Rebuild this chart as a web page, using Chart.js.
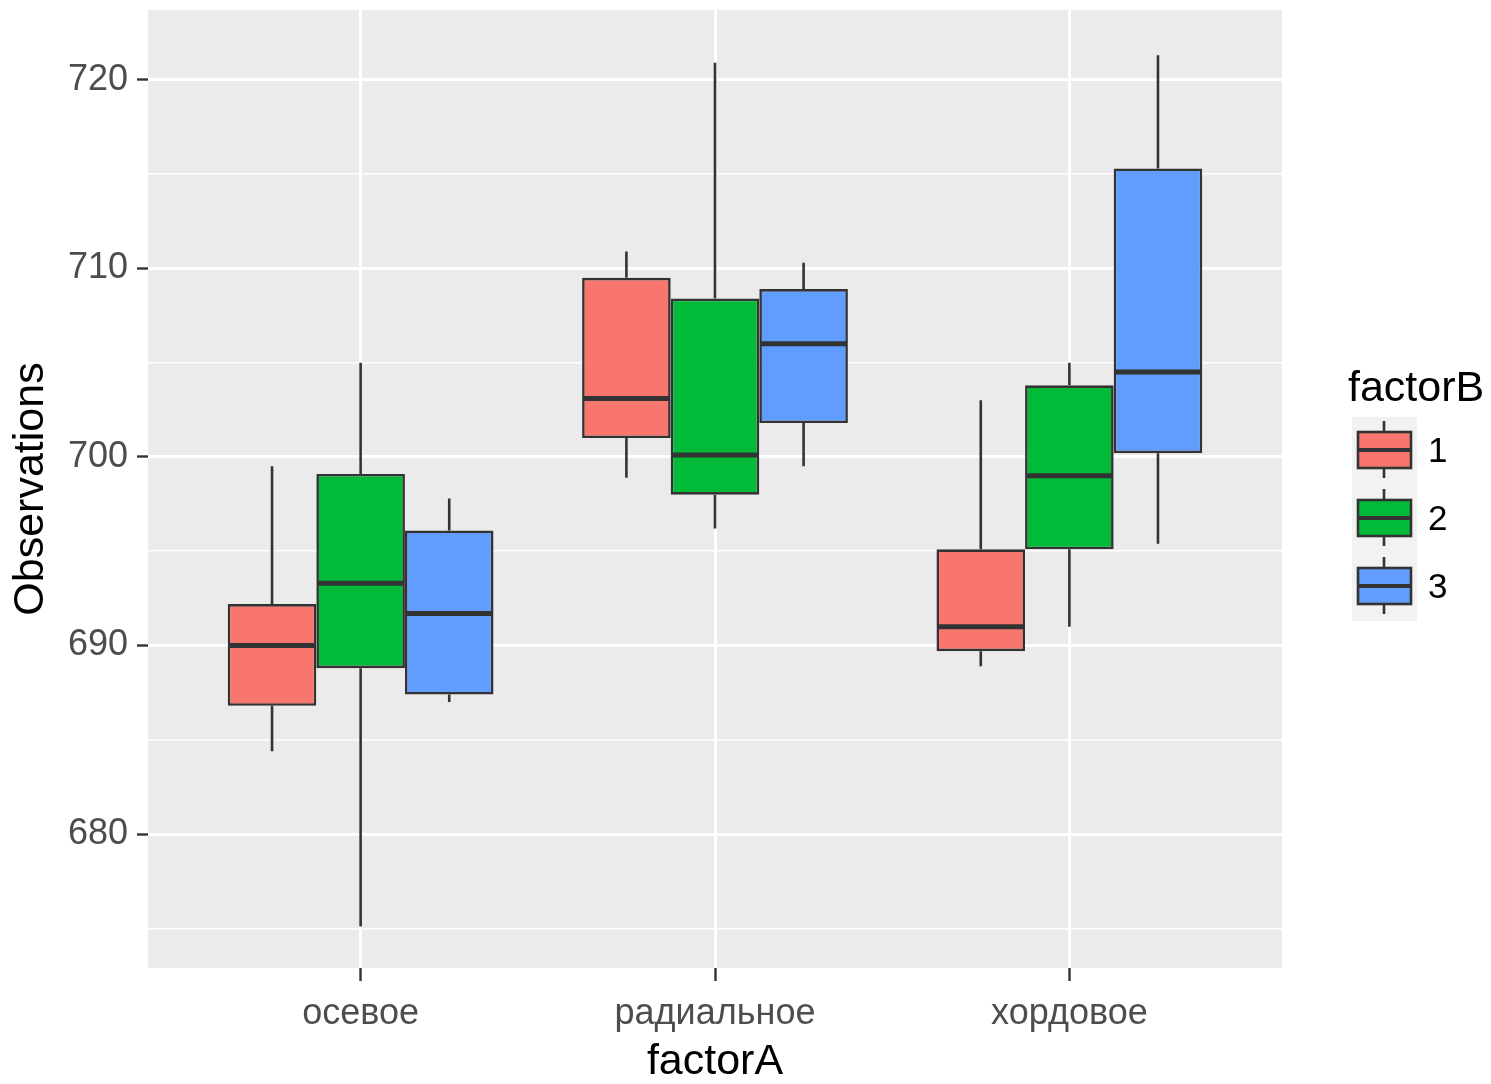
<!DOCTYPE html>
<html>
<head>
<meta charset="utf-8">
<script src="https://cdn.jsdelivr.net/npm/chart.js@4.4.1/dist/chart.umd.min.js"></script>
<style>
  body { margin: 0; background: #fff; }
  #wrap { width: 1491px; height: 1084px; }
</style>
</head>
<body>
<div id="wrap"><canvas id="box-chart"></canvas></div>
<script>
var categories = ["осевое", "радиальное", "хордовое"];
var groups = ["1", "2", "3"];
var colors = ["#F8766D", "#00BA38", "#619CFF"];

// per factorB level, one value for each factorA category
var lower1 = [684.4, 698.9, 688.9];
var q1_1 = [686.8, 701.0, 689.7];
var median1 = [690.0, 703.1, 691.0];
var q3_1 = [692.2, 709.5, 695.1];
var upper1 = [699.5, 710.9, 703.0];

var lower2 = [675.1, 696.2, 691.0];
var q1_2 = [688.8, 698.0, 695.1];
var median2 = [693.3, 700.1, 699.0];
var q3_2 = [699.1, 708.4, 703.8];
var upper2 = [705.0, 720.9, 705.0];

var lower3 = [687.0, 699.5, 695.4];
var q1_3 = [687.4, 701.8, 700.2];
var median3 = [691.7, 706.0, 704.5];
var q3_3 = [696.1, 708.9, 715.3];
var upper3 = [697.8, 710.3, 721.3];

var yTicks = [675, 680, 685, 690, 695, 700, 705, 710, 715, 720];

var stats = [
  { lower: lower1, q1: q1_1, median: median1, q3: q3_1, upper: upper1 },
  { lower: lower2, q1: q1_2, median: median2, q3: q3_2, upper: upper2 },
  { lower: lower3, q1: q1_3, median: median3, q3: q3_3, upper: upper3 }
];

var datasets = stats.map(function (s, i) {
  return {
    label: groups[i],
    data: categories.map(function (c, j) { return { x: j + 1, y: [s.q1[j], s.q3[j]] }; }),
    backgroundColor: colors[i],
    borderColor: "#333333",
    borderWidth: 2.6,
    borderSkipped: false,
    categoryPercentage: 0.75,
    barPercentage: 1.0
  };
});

var fontFamily = "'Liberation Sans', Arial, sans-serif";

// grey panel behind the grid
var panelBg = {
  id: "panelBg",
  beforeDraw: function (chart) {
    var a = chart.chartArea, ctx = chart.ctx;
    ctx.save();
    ctx.fillStyle = "#EBEBEB";
    ctx.fillRect(a.left, a.top, a.right - a.left, a.bottom - a.top);
    ctx.restore();
  }
};

// whiskers under the boxes, medians on top
var boxParts = {
  id: "boxParts",
  beforeDatasetsDraw: function (chart) {
    var ctx = chart.ctx, y = chart.scales.y;
    ctx.save();
    ctx.strokeStyle = "#333333";
    ctx.lineWidth = 2.6;
    stats.forEach(function (s, i) {
      chart.getDatasetMeta(i).data.forEach(function (bar, j) {
        ctx.beginPath();
        ctx.moveTo(bar.x, y.getPixelForValue(s.upper[j]));
        ctx.lineTo(bar.x, y.getPixelForValue(s.q3[j]));
        ctx.moveTo(bar.x, y.getPixelForValue(s.q1[j]));
        ctx.lineTo(bar.x, y.getPixelForValue(s.lower[j]));
        ctx.stroke();
      });
    });
    ctx.restore();
  },
  afterDatasetsDraw: function (chart) {
    var ctx = chart.ctx, y = chart.scales.y;
    ctx.save();
    ctx.strokeStyle = "#333333";
    ctx.lineWidth = 5;
    stats.forEach(function (s, i) {
      chart.getDatasetMeta(i).data.forEach(function (bar, j) {
        var py = y.getPixelForValue(s.median[j]);
        ctx.beginPath();
        ctx.moveTo(bar.x - bar.width / 2 + 1, py);
        ctx.lineTo(bar.x + bar.width / 2 - 1, py);
        ctx.stroke();
      });
    });
    ctx.restore();
  }
};

// ggplot style legend on the right
var boxLegend = {
  id: "boxLegend",
  afterDraw: function (chart) {
    var ctx = chart.ctx, a = chart.chartArea;
    var left = a.right + 70, top = a.top + 407;
    ctx.save();
    ctx.fillStyle = "#000";
    ctx.font = "43px " + fontFamily;
    ctx.textBaseline = "alphabetic";
    ctx.fillText("factorB", left - 4, top - 16);
    for (var i = 0; i < groups.length; i++) {
      var ky = top + i * 68;
      ctx.fillStyle = "#F2F2F2";
      ctx.fillRect(left, ky, 65, 68);
      ctx.strokeStyle = "#333333";
      ctx.lineWidth = 2.6;
      ctx.beginPath();
      ctx.moveTo(left + 32, ky + 4);
      ctx.lineTo(left + 32, ky + 61);
      ctx.stroke();
      ctx.fillStyle = colors[i];
      ctx.fillRect(left + 6, ky + 15, 53, 36);
      ctx.strokeRect(left + 6, ky + 15, 53, 36);
      ctx.lineWidth = 4;
      ctx.beginPath();
      ctx.moveTo(left + 6, ky + 33);
      ctx.lineTo(left + 59, ky + 33);
      ctx.stroke();
      ctx.fillStyle = "#000";
      ctx.font = "35px " + fontFamily;
      ctx.textBaseline = "middle";
      ctx.fillText(groups[i], left + 76, ky + 35);
    }
    ctx.restore();
  }
};

new Chart("box-chart", {
  type: "bar",
  data: { datasets: datasets },
  plugins: [panelBg, boxParts, boxLegend],
  options: {
    responsive: true,
    maintainAspectRatio: false,
    animation: false,
    layout: { padding: { left: 0, right: 209, top: 10, bottom: 0 } },
    plugins: { legend: { display: false }, tooltip: { enabled: false } },
    scales: {
      x: {
        type: "linear",
        min: 0.4,
        max: 3.6,
        offset: false,
        afterBuildTicks: function (scale) {
          scale.ticks = categories.map(function (c, j) { return { value: j + 1 }; });
        },
        afterFit: function (scale) {
          scale.height = 116;
          scale.paddingLeft = 0;
          scale.paddingRight = 0;
        },
        border: { display: false },
        grid: { color: "#FFFFFF", lineWidth: 3, offset: false, tickLength: 13, tickColor: "#333333", tickWidth: 2.4 },
        ticks: {
          color: "#4D4D4D",
          font: { family: fontFamily, size: 36 },
          padding: 11,
          maxRotation: 0,
          callback: function (v) { return categories[v - 1]; }
        },
        title: { display: true, text: "factorA", color: "#000", font: { family: fontFamily, size: 43, lineHeight: 1.0 }, padding: { top: 0, bottom: 0 } }
      },
      y: {
        min: 672.9,
        max: 723.7,
        afterBuildTicks: function (scale) {
          scale.ticks = yTicks.map(function (v) { return { value: v }; });
        },
        afterFit: function (scale) {
          scale.width = 148;
          scale.paddingTop = 0;
          scale.paddingBottom = 0;
        },
        border: { display: false },
        grid: {
          color: "#FFFFFF",
          lineWidth: function (c) { return c.tick && c.tick.value % 10 === 0 ? 3 : 1.5; },
          tickLength: 11,
          tickColor: function (c) { return c.tick && c.tick.value % 10 === 0 ? "#333333" : "rgba(0,0,0,0)"; },
          tickWidth: 2.4
        },
        ticks: {
          color: "#4D4D4D",
          font: { family: fontFamily, size: 36 },
          padding: 9,
          callback: function (v) { return v % 10 === 0 ? v : ""; }
        },
        title: { display: true, text: "Observations", color: "#000", font: { family: fontFamily, size: 43 }, padding: { top: 5, bottom: 0 } }
      }
    }
  }
});
</script>
</body>
</html>
